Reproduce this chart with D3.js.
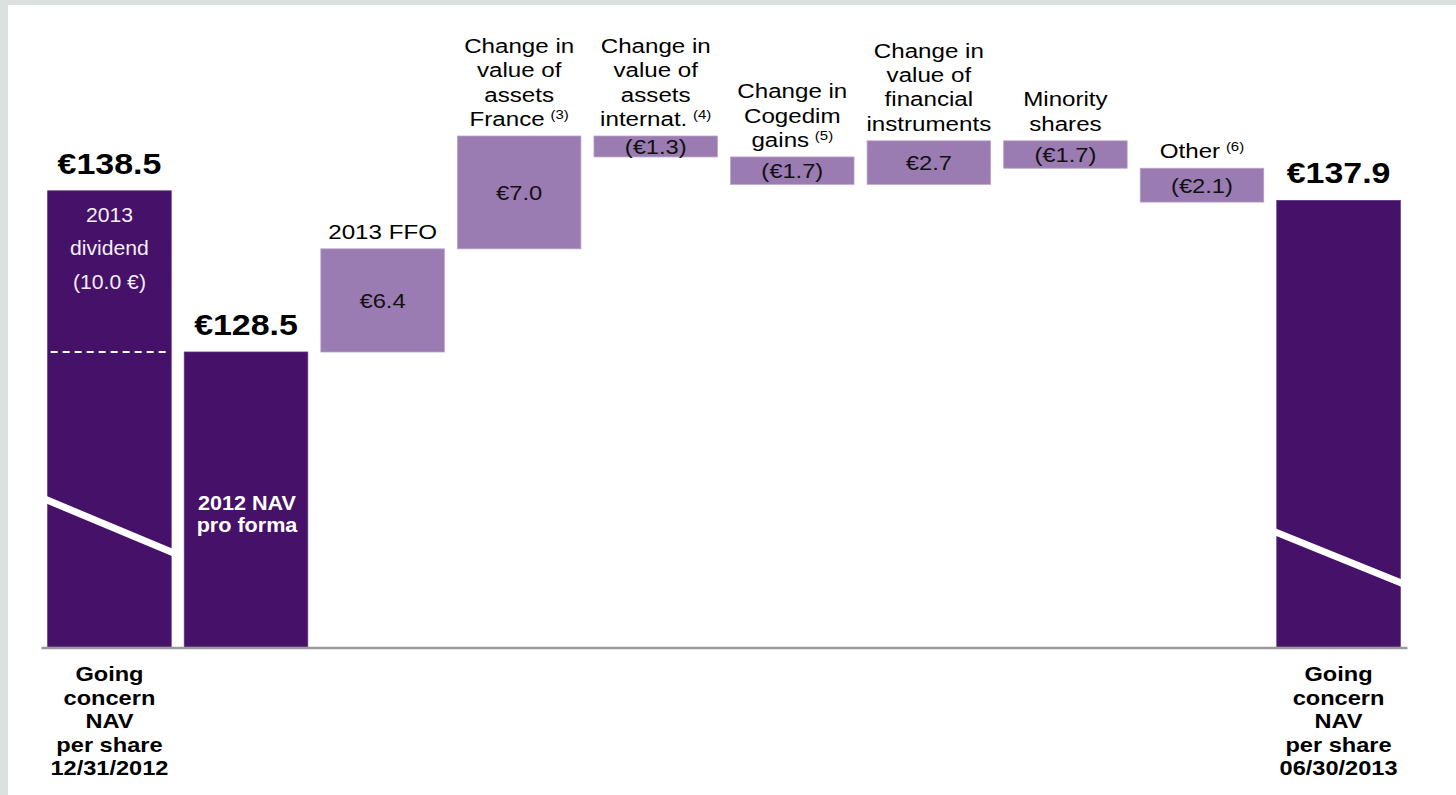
<!DOCTYPE html>
<html>
<head>
<meta charset="utf-8">
<script src="https://cdn.jsdelivr.net/npm/d3@7"></script>
<style>
  html, body { margin: 0; padding: 0; background: #dbe1de; }
  svg { display: block; font-family: "Liberation Sans", Arial, sans-serif; }
</style>
</head>
<body>
<svg id="chart" width="1456" height="795"></svg>
<script>
// NAV per share bridge, 12/31/2012 -> 06/30/2013 (EUR per share)
const steps    = ["nav2012", "proForma", "ffo", "assetsFr", "assetsIntl", "cogedim", "financial", "minority", "other", "nav2013"];
const kinds    = ["total", "total", "delta", "delta", "delta", "delta", "delta", "delta", "delta", "total"];
const values   = [138.5, 128.5, 6.4, 7.0, -1.3, -1.7, 2.7, -1.7, -2.1, 137.9];

// Text above the floating bars, with the footnote markers
const topLabels = [
  [], [],
  ["2013 FFO"],
  ["Change in", "value of", "assets", "France"],
  ["Change in", "value of", "assets", "internat."],
  ["Change in", "Cogedim", "gains"],
  ["Change in", "value of", "financial", "instruments"],
  ["Minority", "shares"],
  ["Other"],
  []
];
const footnotes = ["", "", "", "(3)", "(4)", "(5)", "", "", "(6)", ""];

// Labels under the axis
const axisLabels = [
  ["Going", "concern", "NAV", "per share", "12/31/2012"],
  [], [], [], [], [], [], [], [],
  ["Going", "concern", "NAV", "per share", "06/30/2013"]
];

// Dividend part of the opening bar and inner labels
const dividend = 10.0;
const dividendLines = ["2013", "dividend", "(10.0 \u20AC)"];
const proFormaLines = ["2012 NAV", "pro forma"];

// Value shown at the (truncated) baseline and axis-break marks [left, right]
const axisFloor = 110.2;
const breakMarks = [
  { step: "nav2012", from: 119.3, to: 116.1 },
  { step: "nav2013", from: 117.3, to: 114.2 }
];

const DARK = "#461169";
const LIGHT = "#9a7bb2";

const svg = d3.select("#chart");
const W = 1456, H = 795;

// wide type: stretch text horizontally around its anchor
function widen(sel, s) {
  sel.each(function () {
    const t = d3.select(this);
    const cx = +t.attr("x");
    t.attr("x", 0).attr("transform", `translate(${cx},0) scale(${s},1)`);
  });
}

// panel
svg.append("rect").attr("width", W).attr("height", H).attr("fill", "#dbe1de");
svg.append("rect").attr("x", 8).attr("y", 5).attr("width", W - 8).attr("height", H - 5).attr("fill", "#ffffff");

// running totals -> bar extents
let running = 0;
const bars = steps.map((s, i) => {
  let lo, hi;
  if (kinds[i] === "total") {
    running = values[i];
    lo = axisFloor; hi = values[i];
  } else {
    const start = running;
    running = start + values[i];
    lo = Math.min(start, running); hi = Math.max(start, running);
  }
  return { step: s, kind: kinds[i], value: values[i], lo, hi, i };
});

const x = d3.scaleBand()
  .domain(steps)
  .range([41, 1407])
  .paddingInner(0.0956)
  .paddingOuter(0.049);

const y = d3.scaleLinear()
  .domain([axisFloor, d3.max(bars, d => d.hi)])
  .range([647, 136]);

const bw = x.bandwidth();

// bars
svg.append("g").selectAll("rect")
  .data(bars)
  .join("rect")
  .attr("x", d => x(d.step))
  .attr("y", d => y(d.hi))
  .attr("width", bw)
  .attr("height", d => y(d.lo) - y(d.hi))
  .attr("fill", d => d.kind === "total" ? DARK : LIGHT)
  .attr("stroke", d => d.kind === "total" ? "#5a2f7e" : "#b9a3ca")
  .attr("stroke-width", 0.8);

// axis-break marks
breakMarks.forEach(b => {
  const x0 = x(b.step), x1 = x0 + bw;
  const slope = (y(b.to) - y(b.from)) / bw;
  const ext = b.step === "nav2012" ? 11 : 6;
  svg.append("line")
    .attr("x1", x0 - 6).attr("y1", y(b.from) - 6 * slope)
    .attr("x2", x1 + ext).attr("y2", y(b.to) + ext * slope)
    .attr("stroke", "#ffffff")
    .attr("stroke-width", 7);
});

// dividend split inside the opening bar
const open = bars[0];
svg.append("line")
  .attr("x1", x(open.step) + 3).attr("x2", x(open.step) + bw - 2)
  .attr("y1", y(open.value - dividend)).attr("y2", y(open.value - dividend))
  .attr("stroke", "#ffffff")
  .attr("stroke-width", 2)
  .attr("stroke-dasharray", "7,5");

svg.append("g").selectAll("text")
  .data(dividendLines)
  .join("text")
  .attr("x", x(open.step) + bw / 2)
  .attr("y", (d, k) => y(open.value) + 31 + k * 33.5)
  .attr("text-anchor", "middle")
  .attr("font-size", 20)
  .attr("fill", "#f3eef7")
  .text(d => d)
  .call(widen, 1.06);

// pro forma label
const pf = bars[1];
svg.append("g").selectAll("text")
  .data(proFormaLines)
  .join("text")
  .attr("x", x(pf.step) + bw / 2 + 1)
  .attr("y", (d, k) => 510 + k * 22)
  .attr("text-anchor", "middle")
  .attr("font-size", 20)
  .attr("font-weight", "bold")
  .attr("fill", "#ffffff")
  .text(d => d)
  .call(widen, 1.08);

// total labels
const fmtTotal = v => "\u20AC" + d3.format(".1f")(v);
svg.append("g").selectAll("text")
  .data(bars.filter(d => d.kind === "total"))
  .join("text")
  .attr("x", d => x(d.step) + bw / 2)
  .attr("y", d => y(d.hi) - 17)
  .attr("text-anchor", "middle")
  .attr("font-size", 29)
  .attr("font-weight", "bold")
  .attr("fill", "#000000")
  .text(d => fmtTotal(d.value))
  .call(widen, 1.17);

// delta labels inside floating bars
const fmtDelta = v => v < 0 ? "(\u20AC" + d3.format(".1f")(-v) + ")" : "\u20AC" + d3.format(".1f")(v);
svg.append("g").selectAll("text")
  .data(bars.filter(d => d.kind === "delta"))
  .join("text")
  .attr("x", d => x(d.step) + bw / 2)
  .attr("y", d => (y(d.hi) + y(d.lo)) / 2 + 7.5)
  .attr("text-anchor", "middle")
  .attr("font-size", 21)
  .attr("fill", "#111111")
  .text(d => fmtDelta(d.value))
  .call(widen, 1.13);

// category labels above floating bars
const catText = svg.append("g");
bars.forEach(d => {
  const lines = topLabels[d.i];
  if (!lines.length) return;
  const n = lines.length;
  const baseY = y(d.hi) - 10;
  lines.forEach((line, k) => {
    const t = catText.append("text")
      .attr("x", x(d.step) + bw / 2)
      .attr("y", baseY - (n - 1 - k) * 24.4)
      .attr("text-anchor", "middle")
      .attr("font-size", 21)
      .attr("fill", "#000000");
    t.append("tspan").text(line);
    if (k === n - 1 && footnotes[d.i]) {
      t.append("tspan")
        .attr("dx", 5).attr("dy", -7)
        .attr("font-size", 13)
        .text(footnotes[d.i]);
    }
  });
});
catText.selectAll("text").call(widen, 1.15);

// baseline axis
const axis = d3.axisBottom(x).tickSize(0).tickSizeOuter(0).tickFormat("");
const gAxis = svg.append("g").attr("transform", "translate(0,647.5)").call(axis);
gAxis.select(".domain").attr("stroke", "#9a9a9a").attr("stroke-width", 2.5);

// labels under the axis
const axisText = svg.append("g");
bars.forEach(d => {
  axisText.append("g").selectAll("text")
    .data(axisLabels[d.i])
    .join("text")
    .attr("x", x(d.step) + bw / 2)
    .attr("y", (t, k) => 681 + k * 23.6)
    .attr("text-anchor", "middle")
    .attr("font-size", 20)
    .attr("font-weight", "bold")
    .attr("fill", "#000000")
    .text(t => t);
});
axisText.selectAll("text").call(widen, 1.18);
</script>
</body>
</html>
